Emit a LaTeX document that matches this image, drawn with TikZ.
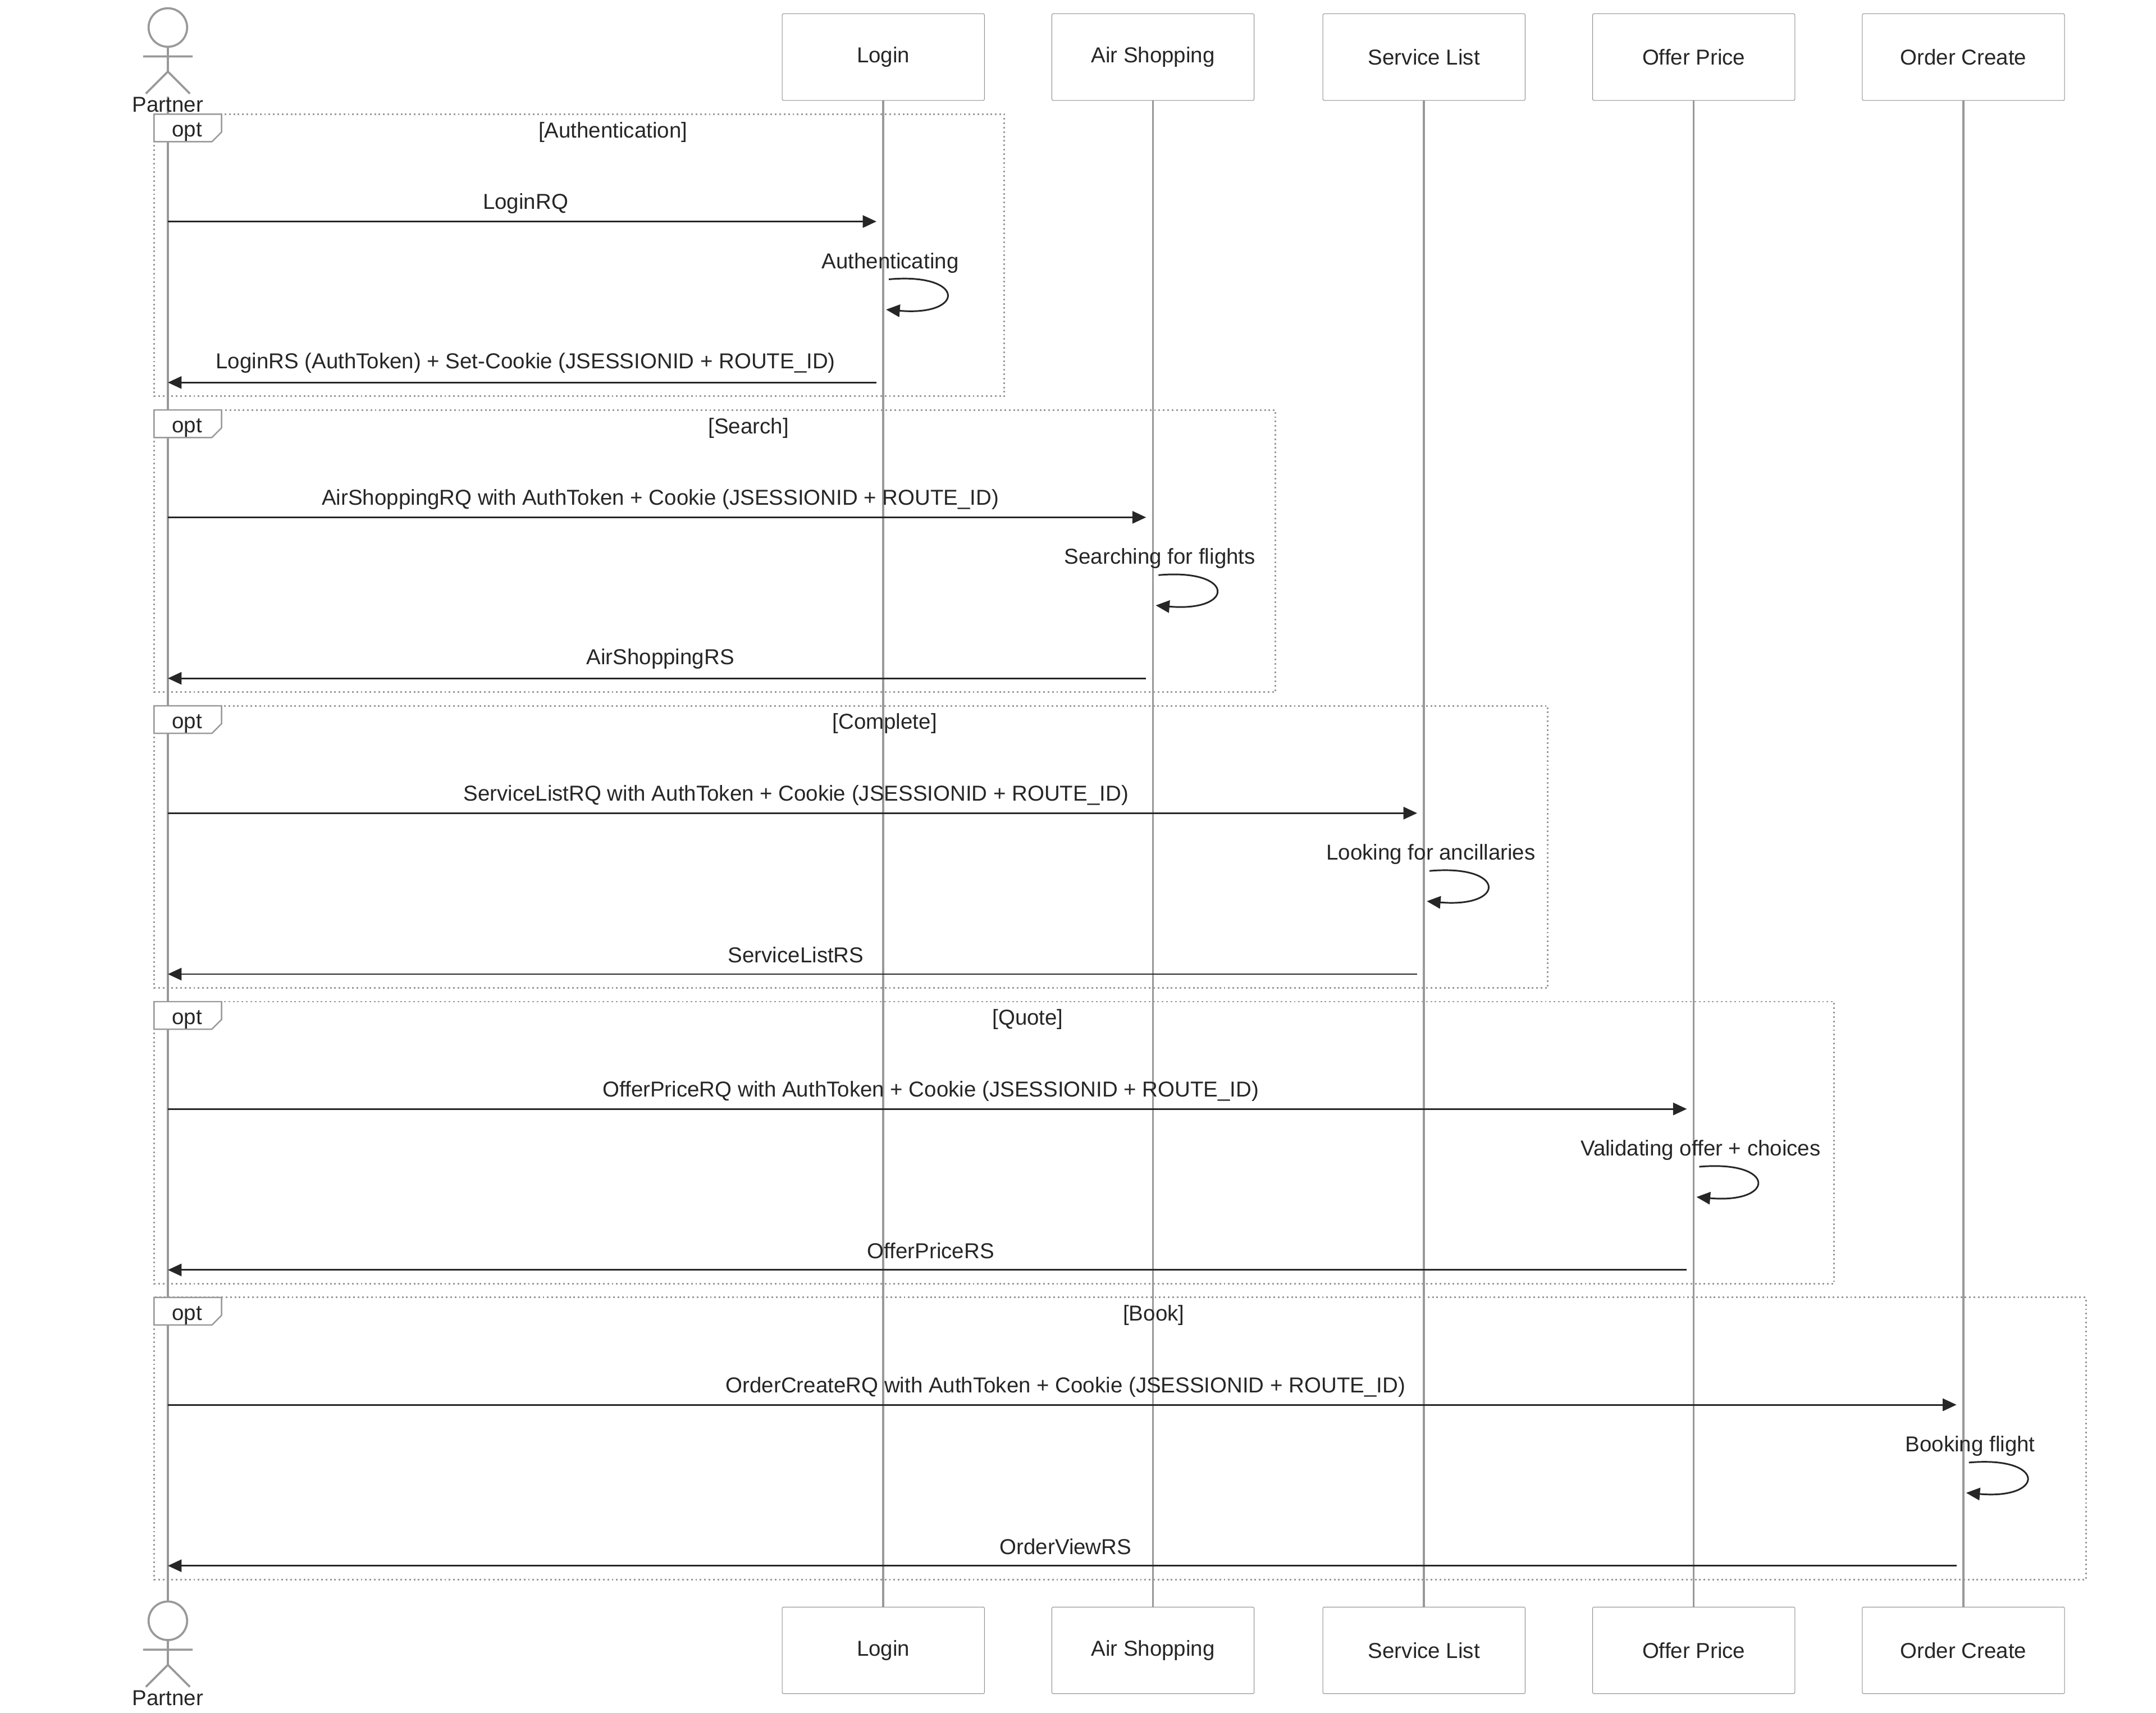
\documentclass[tikz,border=0pt]{standalone}
\usepackage{fontspec}
\setmainfont{Liberation Sans}
\usetikzlibrary{arrows.meta}
\begin{document}
\begin{tikzpicture}[x=1pt,y=-1pt,
  txt/.style={font=\fontsize{15.7}{19}\selectfont, text=black!85, inner sep=0pt},
  pbox/.style={draw=black!45, fill=white, minimum width=147pt, minimum height=63pt, font=\fontsize{15.7}{19}\selectfont, text=black!85, rounded corners=1pt},
  life/.style={draw=black!40, line width=1.5pt},
  msg/.style={draw=black!85, line width=1.2pt, -{Triangle[length=10pt,width=9pt]}},
  frame/.style={draw=black!40, line width=1.2pt, dotted},
  actor/.style={draw=black!40, line width=1.5pt}]
\useasboundingbox (0,0) rectangle (1567,1245);
\fill[white] (0,0) rectangle (1567,1245);
% lifelines
\draw[life] (122,70) -- (122,1165);
\foreach \n/\x/\t in {lg/642/Login, as/838/Air Shopping, sl/1035/Service List, op/1231/Offer Price, oc/1427/Order Create}{
  \draw[life] (\x,73) -- (\x,1168);
  \node[pbox] (\n top) at (\x,41.5) {\t};
  \node[pbox] (\n bot) at (\x,1199.5) {\t};
}
% actors
\foreach \nm/\y in {pa/0, pb/1158}{
  \draw[actor, fill=white] (122,20+\y) circle (14);
  \draw[actor] (122,34+\y) -- (122,52+\y) (104,41+\y) -- (140,41+\y)
    (122,52+\y) -- (106,68+\y) (122,52+\y) -- (138,68+\y);
  \node[txt] (\nm) at (122,76+\y) {Partner};
}
% frames
\foreach \i/\top/\r/\tx/\lab/\req/\self/\resp in {
  1/83/730/642/Authentication/LoginRQ/Authenticating/{LoginRS (AuthToken) + Set-Cookie (JSESSIONID + ROUTE\_ID)},
  2/298/927/838/Search/{AirShoppingRQ with AuthToken + Cookie (JSESSIONID + ROUTE\_ID)}/Searching for flights/AirShoppingRS,
  3/513/1125/1035/Complete/{ServiceListRQ with AuthToken + Cookie (JSESSIONID + ROUTE\_ID)}/Looking for ancillaries/ServiceListRS,
  4/728/1333/1231/Quote/{OfferPriceRQ with AuthToken + Cookie (JSESSIONID + ROUTE\_ID)}/Validating offer + choices/OfferPriceRS,
  5/943/1516/1427/Book/{OrderCreateRQ with AuthToken + Cookie (JSESSIONID + ROUTE\_ID)}/Booking flight/OrderViewRS}{
  \draw[frame] (112,\top) rectangle (\r,\top+205);
  \draw[draw=black!40, line width=1pt, fill=white] (112,\top) -- (161,\top) -- (161,\top+13) -- (154,\top+20) -- (112,\top+20) -- cycle;
  \node[txt] (opt\i) at (136,\top+13) {opt};
  \node[txt] (title\i) at ({(161+\r)/2},\top+13) {[\lab]};
  \coordinate (rqs\i) at (122,\top+78);
  \coordinate (rqe\i) at (\tx-5,\top+78);
  \draw[msg] (rqs\i) -- (rqe\i);
  \node[txt] (rql\i) at ({(122+\tx)/2},\top+65) {\req};
  \node[txt] (sl\i) at (\tx+5,\top+108) {\self};
  \coordinate (ss\i) at (\tx+4,\top+120);
  \coordinate (se\i) at (\tx+2,\top+142);
  \draw[msg] (ss\i) .. controls (\tx+60,\top+115) and (\tx+60,\top+147) .. (se\i);
  \coordinate (rss\i) at (\tx-5,\top+195);
  \coordinate (rse\i) at (122,\top+195);
  \draw[msg] (rss\i) -- (rse\i);
  \node[txt] (rsl\i) at ({(122+\tx)/2},\top+181) {\resp};
}
\end{tikzpicture}
\end{document}
